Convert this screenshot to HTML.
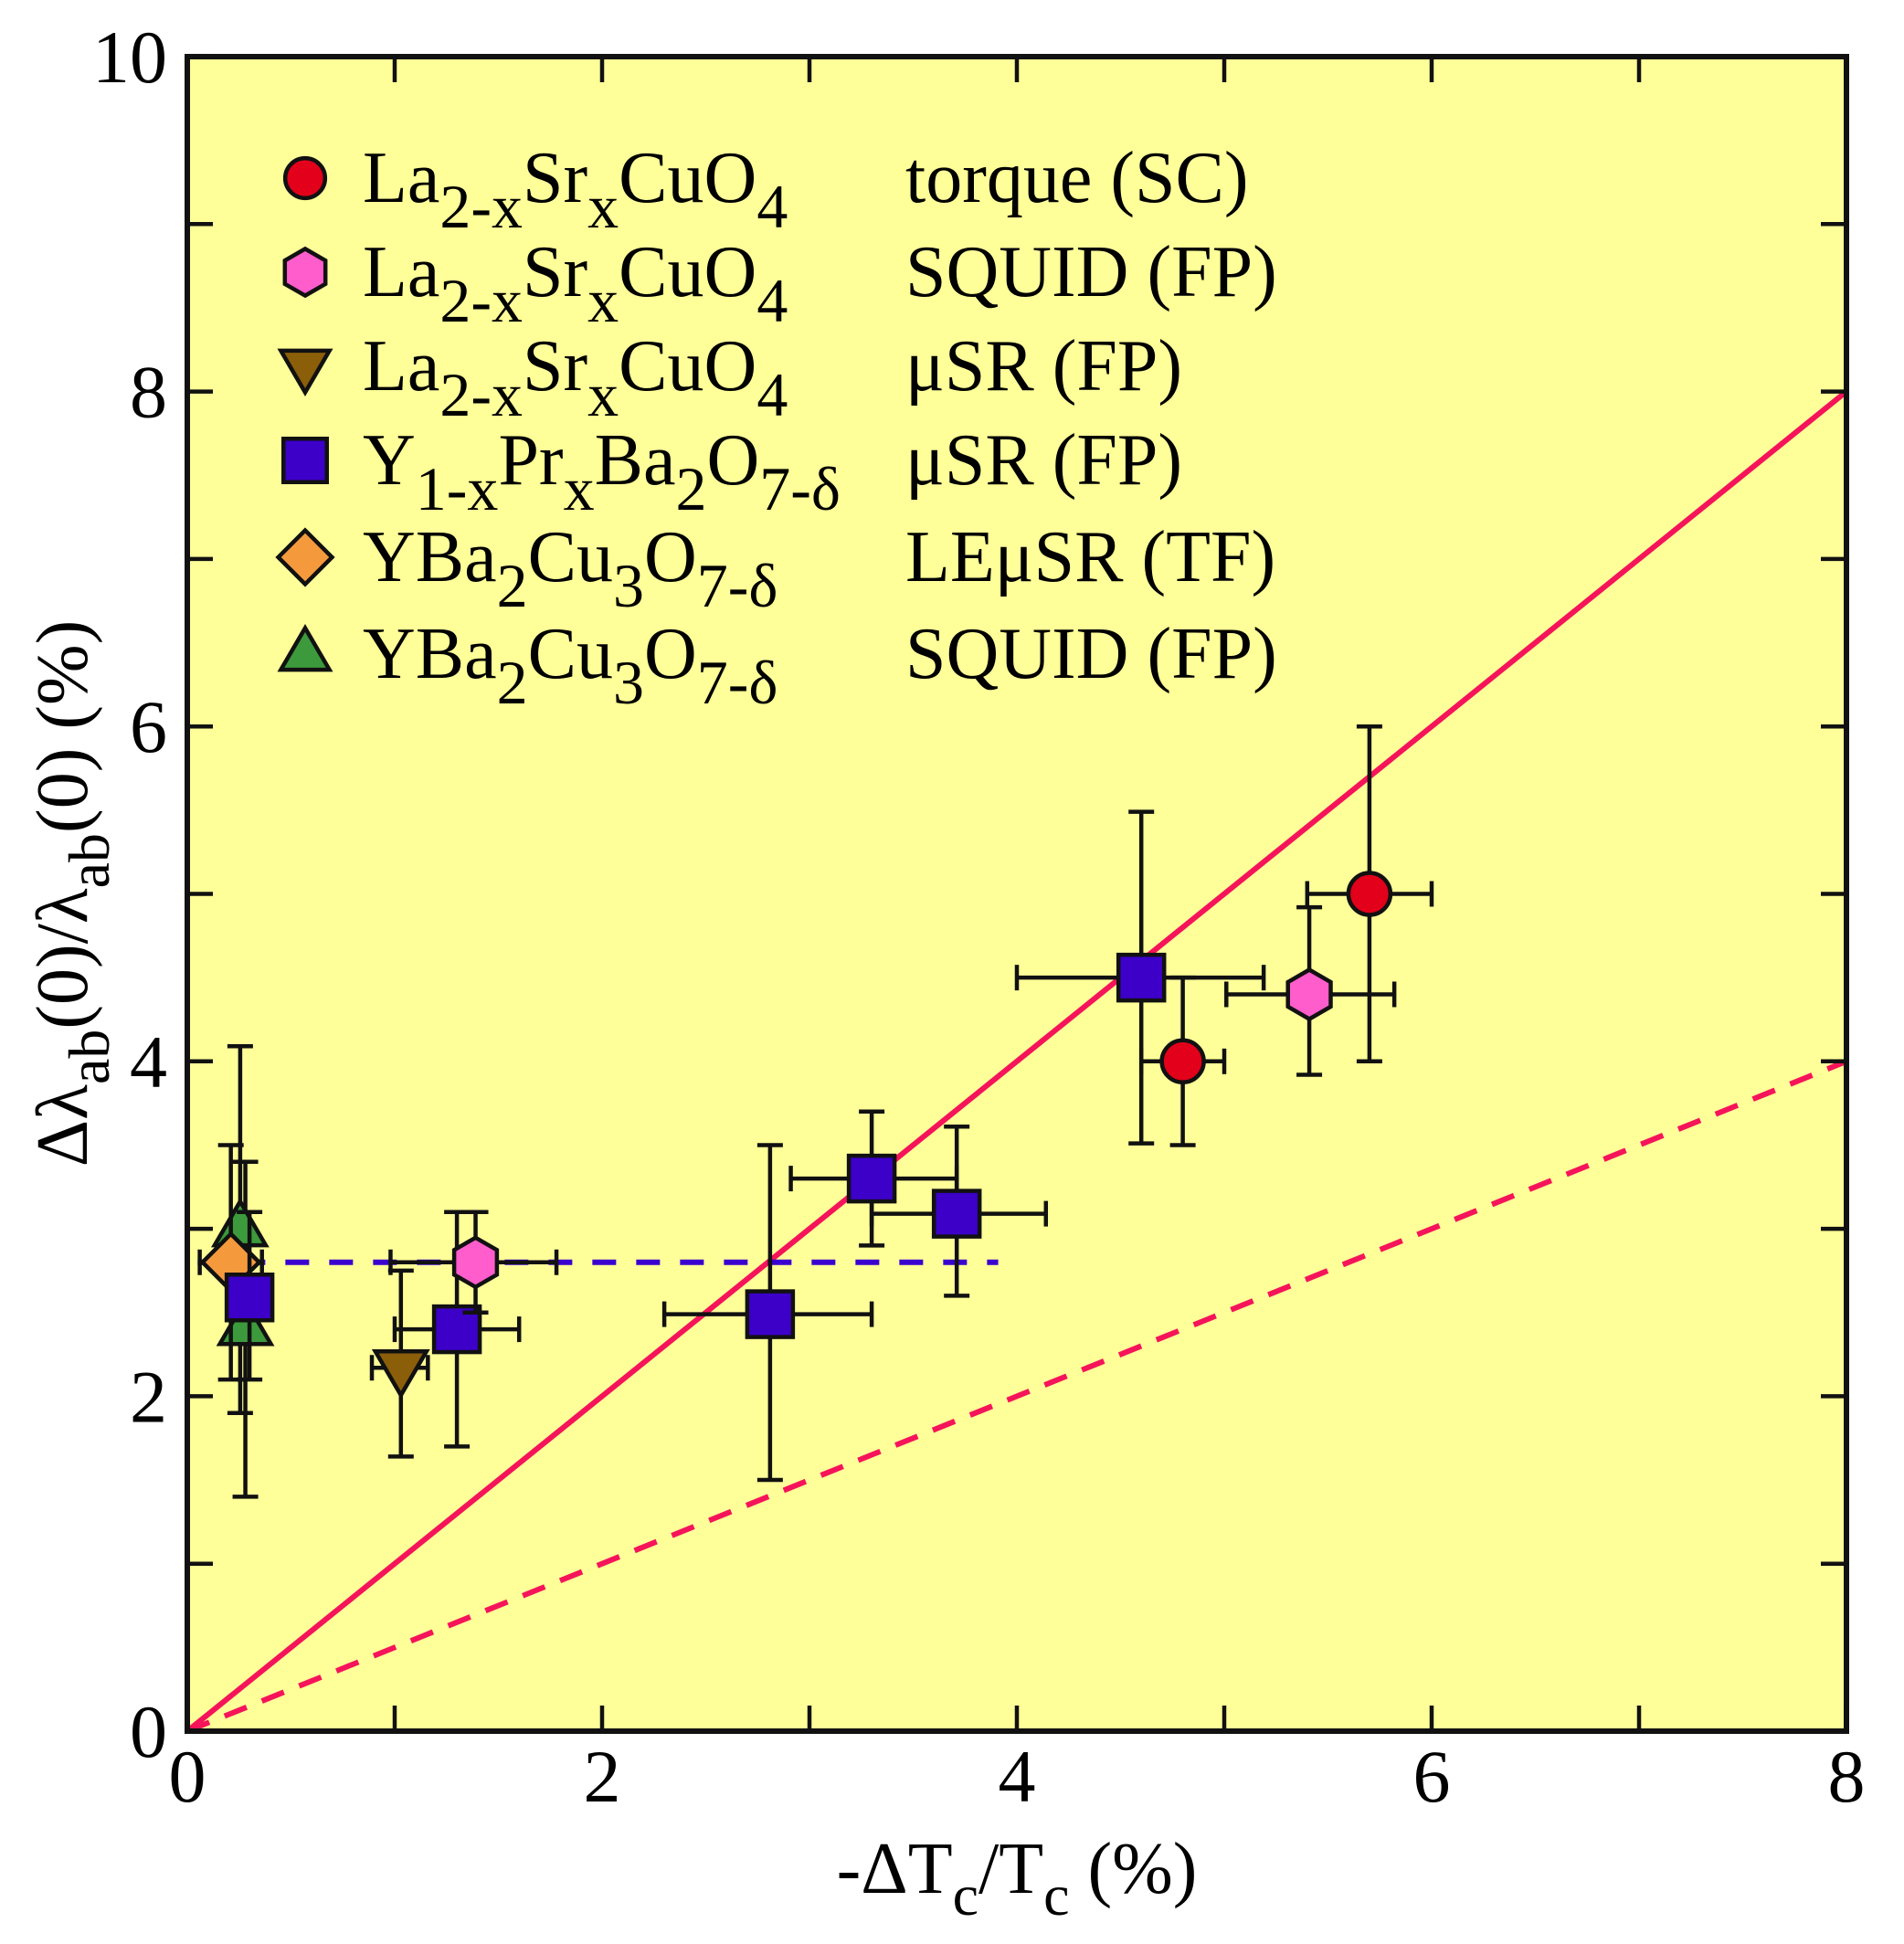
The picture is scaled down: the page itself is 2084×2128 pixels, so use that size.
<!DOCTYPE html>
<html><head><meta charset="utf-8"><style>
html,body{margin:0;padding:0;background:#fff}
svg{display:block;font-family:"Liberation Serif",serif}
</style></head><body>
<svg id="chart" width="2084" height="2128" viewBox="0 0 2084 2128" xmlns="http://www.w3.org/2000/svg">
<rect x="205" y="62" width="1816" height="1833" fill="#ffff99"/>
<g id="lines"></g>
<g id="marks"></g>
<g id="axes"></g>
<g id="legend"></g>
<text x="1113" y="2072" font-size="80" text-anchor="middle">-ΔT<tspan font-size="64" dy="24">c</tspan><tspan dy="-24">/T</tspan><tspan font-size="64" dy="24">c</tspan><tspan dy="-24"> (%)</tspan></text>
<text transform="translate(95,978) rotate(-90)" font-size="80" text-anchor="middle">Δλ<tspan font-size="64" dy="24">ab</tspan><tspan dy="-24">(0)/λ</tspan><tspan font-size="64" dy="24">ab</tspan><tspan dy="-24">(0) (%)</tspan></text>
</svg>
<script>
const xTicks=[0,2,4,6,8];
const yTicks=[0,2,4,6,8,10];
const torqueX=[4.8,5.7], torqueY=[4.0,5.0], torqueXErr=[[4.6,5.0],[5.4,6.0]], torqueYErr=[[3.5,4.5],[4.0,6.0]];
const squidLX=[1.39,5.41], squidLY=[2.8,4.4], squidLXErr=[[0.98,1.78],[5.01,5.82]], squidLYErr=[[2.5,3.1],[3.92,4.92]];
const musrLX=[1.03], musrLY=[2.17], musrLXErr=[[0.89,1.16]], musrLYErr=[[1.64,2.75]];
const yprX=[0.30,1.30,2.81,3.30,3.71,4.60], yprY=[2.59,2.40,2.49,3.30,3.09,4.50];
const yprXErr=[[0.30,0.30],[1.0,1.6],[2.30,3.30],[2.91,3.71],[3.30,4.14],[4.0,5.19]];
const yprYErr=[[2.1,3.1],[1.7,3.1],[1.5,3.5],[2.9,3.7],[2.6,3.61],[3.51,5.49]];
const lemX=[0.21], lemY=[2.8], lemXErr=[[0.06,0.36]], lemYErr=[[2.1,3.5]];
const squidYX=[0.255,0.28], squidYY=[3.0,2.41], squidYXErr=[[0.255,0.255],[0.28,0.28]], squidYYErr=[[1.9,4.09],[1.4,3.4]];
const fitSolidSlope=1.0, fitDashedSlope=0.5, plateauY=2.8, plateauX=[0.05,3.91];

const X0=205,X1=2021,Y0=1895,Y1=62;
const sx=v=>X0+(X1-X0)*v/8;
const sy=v=>Y0-(Y0-Y1)*v/10;
const NS="http://www.w3.org/2000/svg";
function mk(tag,attrs,parent){const e=document.createElementNS(NS,tag);for(const k in attrs)e.setAttribute(k,attrs[k]);parent.appendChild(e);return e;}
const lines=document.getElementById('lines'),marks=document.getElementById('marks'),axes=document.getElementById('axes'),legend=document.getElementById('legend');

let l=mk('line',{x1:sx(0),y1:sy(0),x2:sx(8),y2:sy(8*fitSolidSlope),stroke:'#f5145a','stroke-width':6},lines);


l=mk('line',{x1:sx(0),y1:sy(0),x2:sx(8),y2:sy(8*fitDashedSlope),stroke:'#f5145a','stroke-width':6,'stroke-dasharray':'26 18'},lines);


l=mk('line',{x1:sx(plateauX[0]),y1:sy(plateauY),x2:sx(plateauX[1]),y2:sy(plateauY),stroke:'#3a00d0','stroke-width':6,'stroke-dasharray':'26 22'},lines);



function marker(type,cx,cy,fill,parent,s){
  s=s||1;let e;
  if(type==='circle')e=mk('circle',{cx:cx,cy:cy,r:23*s},parent);
  else if(type==='square')e=mk('rect',{x:cx-25*s,y:cy-25*s,width:50*s,height:50*s},parent);
  else if(type==='hex'){const r=27*s,p=[];for(let i=0;i<6;i++){const a=Math.PI/2+i*Math.PI/3;p.push((cx+r*Math.cos(a)).toFixed(1)+','+(cy+r*Math.sin(a)).toFixed(1));}e=mk('polygon',{points:p.join(' ')},parent);}
  else if(type==='tdown')e=mk('polygon',{points:`${cx-28*s},${cy-18*s} ${cx+28*s},${cy-18*s} ${cx},${cy+30*s}`},parent);
  else if(type==='tup')e=mk('polygon',{points:`${cx-28*s},${cy+18*s} ${cx+28*s},${cy+18*s} ${cx},${cy-30*s}`},parent);
  else if(type==='diamond')e=mk('polygon',{points:`${cx},${cy-31*s} ${cx+31*s},${cy} ${cx},${cy+31*s} ${cx-31*s},${cy}`},parent);
  e.setAttribute('fill',fill);e.setAttribute('stroke','#111');e.setAttribute('stroke-width',4.5);e.setAttribute('stroke-linejoin','miter');
  return e;
}
function series(name,type,fill,xs,ys,xe,ye){
  const g=mk('g',{},marks);
  
  
  for(let i=0;i<xs.length;i++){
    const cx=sx(xs[i]),cy=sy(ys[i]);
    const eg=mk('g',{stroke:'#111','stroke-width':4.5,fill:'none'},g);
    
    
    const y1=sy(ye[i][0]),y2=sy(ye[i][1]);
    mk('line',{x1:cx,y1:y1,x2:cx,y2:y2},eg);
    mk('line',{x1:cx-14,y1:y1,x2:cx+14,y2:y1},eg);
    mk('line',{x1:cx-14,y1:y2,x2:cx+14,y2:y2},eg);
    const x1=sx(xe[i][0]),x2=sx(xe[i][1]);
    if(x2-x1>2){
      mk('line',{x1:x1,y1:cy,x2:x2,y2:cy},eg);
      mk('line',{x1:x1,y1:cy-14,x2:x1,y2:cy+14},eg);
      mk('line',{x1:x2,y1:cy-14,x2:x2,y2:cy+14},eg);
    }
  }
  for(let i=0;i<xs.length;i++){
    const m=marker(type,sx(xs[i]),sy(ys[i]),fill,g);
    
    
  }
}
series('ybco-squid','tup','#3c9a3c',squidYX,squidYY,squidYXErr,squidYYErr);
series('ybco-lemusr','diamond','#f59a3c',lemX,lemY,lemXErr,lemYErr);
series('ypr-musr','square','#3c00c8',yprX,yprY,yprXErr,yprYErr);
series('lsco-musr','tdown','#8b5e0a',musrLX,musrLY,musrLXErr,musrLYErr);
series('lsco-squid','hex','#ff5ccc',squidLX,squidLY,squidLXErr,squidLYErr);
series('lsco-torque','circle','#e2001a',torqueX,torqueY,torqueXErr,torqueYErr);

let fr=mk('rect',{x:X0,y:Y1,width:X1-X0,height:Y0-Y1,fill:'none',stroke:'#111','stroke-width':6},axes);


for(let v=0;v<=8;v++){
  for(const [ya,d] of [[Y0,-1],[Y1,1]]){
    const t=mk('line',{x1:sx(v),y1:ya,x2:sx(v),y2:ya+d*28,stroke:'#111','stroke-width':4.5},axes);
    
    
  }
}
for(let v=0;v<=10;v++){
  for(const [xa,d] of [[X0,1],[X1,-1]]){
    const t=mk('line',{x1:xa,y1:sy(v),x2:xa+d*28,y2:sy(v),stroke:'#111','stroke-width':4.5},axes);
    
    
  }
}
xTicks.forEach(v=>{
  const t=mk('text',{x:sx(v),y:1972,'font-size':82,'text-anchor':'middle'},axes);
  t.textContent=String(v);
  
  
});
yTicks.forEach(v=>{
  const t=mk('text',{x:183,y:sy(v)+28,'font-size':82,'text-anchor':'end'},axes);
  t.textContent=String(v);
  
  
});

const legendRows=[
 ['circle','#e2001a',[['La',0],['2-x',1],['Sr',0],['x',1],['CuO',0],['4',1]],'torque (SC)'],
 ['hex','#ff5ccc',[['La',0],['2-x',1],['Sr',0],['x',1],['CuO',0],['4',1]],'SQUID (FP)'],
 ['tdown','#8b5e0a',[['La',0],['2-x',1],['Sr',0],['x',1],['CuO',0],['4',1]],'μSR (FP)'],
 ['square','#3c00c8',[['Y',0],['1-x',1],['Pr',0],['x',1],['Ba',0],['2',1],['O',0],['7-δ',1]],'μSR (FP)'],
 ['diamond','#f59a3c',[['YBa',0],['2',1],['Cu',0],['3',1],['O',0],['7-δ',1]],'LEμSR (TF)'],
 ['tup','#3c9a3c',[['YBa',0],['2',1],['Cu',0],['3',1],['O',0],['7-δ',1]],'SQUID (FP)']
];
const legendY=[195,298,401,504,610,716];
legendRows.forEach((r,i)=>{
  const g=mk('g',{},legend);
  
  
  const cy=legendY[i];
  const m=marker(r[0],334,cy,r[1],g,0.95);
  
  
  const t=mk('text',{x:397,y:cy+26,'font-size':80},g);
  
  
  let sub=false;
  r[2].forEach(p=>{
    const ts=mk('tspan',{},t);
    if(p[1]&&!sub){ts.setAttribute('dy','28');ts.setAttribute('font-size','68');sub=true;}
    else if(!p[1]&&sub){ts.setAttribute('dy','-28');sub=false;}
    else if(p[1])ts.setAttribute('font-size','68');
    ts.textContent=p[0];
  });
  const t2=mk('text',{x:991,y:cy+26,'font-size':80},g);
  t2.textContent=r[3];
  
  
});
</script>
</body></html>
